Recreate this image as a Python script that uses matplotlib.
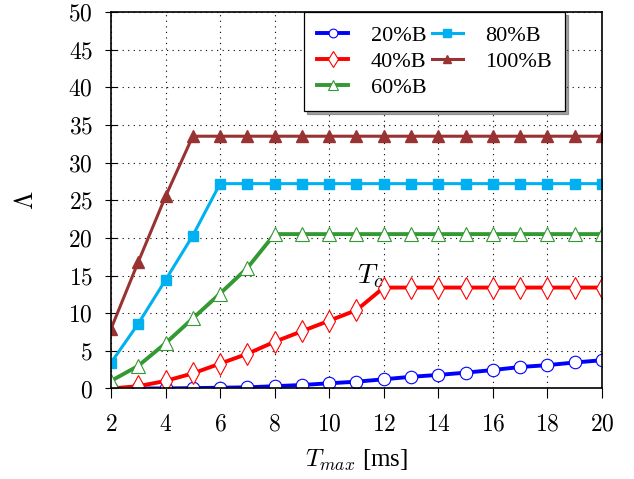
import matplotlib
matplotlib.use('Agg')
import matplotlib.pyplot as plt

plt.rcParams['mathtext.fontset'] = 'cm'
plt.rcParams['font.family'] = 'serif'
plt.rcParams['font.serif'] = ['cmr10', 'DejaVu Serif']
plt.rcParams['axes.formatter.use_mathtext'] = True

# Data
t_max = list(range(2, 21))
b20 = [0.0, 0.0, 0.0, 0.05, 0.1, 0.15, 0.3, 0.46, 0.69, 0.9, 1.22, 1.55, 1.8, 2.1, 2.45, 2.85, 3.1, 3.45, 3.75]
b40 = [0.0, 0.3, 1.0, 2.0, 3.3, 4.6, 6.2, 7.6, 9.0, 10.4, 13.4] + [13.4] * 8
b60 = [1.0, 3.0, 6.0, 9.3, 12.6, 16.0, 20.5] + [20.5] * 12
b80 = [3.4, 8.6, 14.4, 20.3, 27.2] + [27.2] * 14
b100 = [7.9, 16.8, 25.5, 33.5] + [33.5] * 15

labels = ['20%B', '40%B', '60%B', '80%B', '100%B']

fig = plt.figure(figsize=(6.34, 4.79), dpi=100)
ax = fig.add_axes([0.175, 0.189, 0.7745, 0.786])

ax.plot(t_max, b20, color='#0000ff', lw=2.8, marker='o', ms=9, mfc='white', mec='#0000ff', mew=0.8, label=labels[0])
ax.plot(t_max, b40, color='#ff0000', lw=2.8, marker='d', ms=11, mfc='white', mec='#ff0000', mew=0.8, label=labels[1])
ax.plot(t_max, b60, color='#339933', lw=2.8, marker='^', ms=9.5, mfc='white', mec='#339933', mew=0.8, label=labels[2])
ax.plot(t_max, b80, color='#00b0f0', lw=2.2, marker='s', ms=7.5, mfc='#00b0f0', mec='#00b0f0', label=labels[3])
ax.plot(t_max, b100, color='#993333', lw=2.2, marker='^', ms=9, mfc='#993333', mec='#993333', label=labels[4])

ax.text(12.0, 13.1, '$T_c$', fontsize=20, ha='right', va='bottom')

ax.set_xlim(2, 20)
ax.set_ylim(0, 50)
ax.set_xticks(range(2, 21, 2))
ax.set_yticks(range(0, 51, 5))
ax.grid(True, color='black', linestyle=(0, (1, 4)), linewidth=0.8)
ax.tick_params(axis='y', direction='inout', length=8, labelsize=17, pad=9)
ax.tick_params(axis='x', direction='out', length=7, labelsize=17, pad=11)
for s in ax.spines.values():
    s.set_linewidth(1.2)

ax.set_xlabel('$T_{max}$ [ms]', fontsize=18, family='Liberation Serif', labelpad=9)
ax.set_ylabel('$\\Lambda$', fontsize=19, labelpad=22)

leg = ax.legend(loc='upper right', bbox_to_anchor=(0.925, 1.0), borderaxespad=0, ncol=2,
                fancybox=False, shadow=True, framealpha=1, edgecolor='black',
                prop={'family': 'Liberation Serif', 'size': 16},
                handlelength=1.4, columnspacing=0.25, borderpad=0.6, handletextpad=1.0,
                markerscale=0.7, labelspacing=0.25)
leg.get_frame().set_linewidth(0.9)

fig.savefig('out.png', dpi=100)
